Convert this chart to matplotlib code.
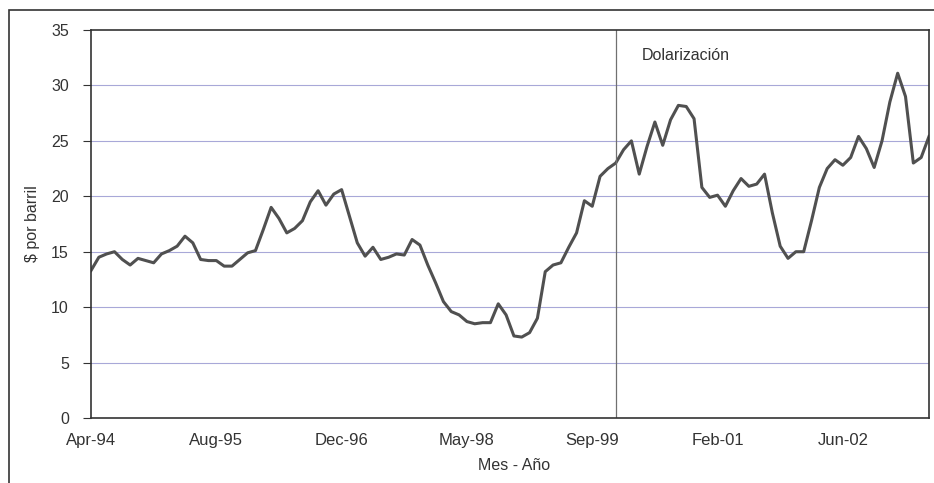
import matplotlib.pyplot as plt
from matplotlib.patches import Rectangle

plt.rcParams['font.family'] = ['Liberation Sans', 'DejaVu Sans']

# monthly crude price, $ per barrel, starting Apr-94
precio = [13.3, 14.5, 14.8, 15.0, 14.3, 13.8, 14.4, 14.2, 14.0, 14.8,
          15.1, 15.5, 16.4, 15.8, 14.3, 14.2, 14.2, 13.7, 13.7, 14.3,
          14.9, 15.1, 17.0, 19.0, 18.0, 16.7, 17.1, 17.8, 19.5, 20.5,
          19.2, 20.2, 20.6, 18.2, 15.8, 14.6, 15.4, 14.3, 14.5, 14.8,
          14.7, 16.1, 15.6, 13.8, 12.2, 10.5, 9.6, 9.3, 8.7, 8.5,
          8.6, 8.6, 10.3, 9.3, 7.4, 7.3, 7.7, 9.0, 13.2, 13.8,
          14.0, 15.4, 16.7, 19.6, 19.1, 21.8, 22.5, 23.0, 24.2, 25.0,
          22.0, 24.5, 26.7, 24.6, 26.9, 28.2, 28.1, 27.0, 20.8, 19.9,
          20.1, 19.1, 20.5, 21.6, 20.9, 21.1, 22.0, 18.5, 15.5, 14.4,
          15.0, 15.0, 17.8, 20.8, 22.5, 23.3, 22.8, 23.5, 25.4, 24.3,
          22.6, 25.0, 28.5, 31.1, 29.0, 23.0, 23.5, 25.4]
etiquetas = ['Apr-94', 'Aug-95', 'Dec-96', 'May-98', 'Sep-99', 'Feb-01', 'Jun-02']
paso_etiqueta = 16
mes_dolarizacion = 67

meses = list(range(len(precio)))
gris = '#333333'

fig = plt.figure(figsize=(9.34, 4.83), dpi=100)
ax = fig.add_axes([91 / 934, 1 - 418 / 483, (929 - 91) / 934, (418 - 30) / 483])

ax.plot(meses, precio, color='#505050', lw=2.2, solid_joinstyle='round')
ax.axvline(mes_dolarizacion, color='#707070', lw=0.9)
ax.text(mes_dolarizacion + 3.3, 32.7, 'Dolarización', fontsize=11.5,
        color=gris, va='center')

ax.set_xlim(0, len(precio) - 1)
ax.set_ylim(0, 35)
ax.set_yticks(range(0, 36, 5))
ax.set_xticks(meses[::paso_etiqueta])
ax.set_xticklabels(etiquetas)
for v in range(5, 35, 5):
    ax.axhline(v, color='#a8a8d8', lw=0.8, zorder=0)

ax.tick_params(axis='y', length=6, pad=10, labelsize=11.5, colors=gris)
ax.tick_params(axis='x', length=0, pad=11, labelsize=12, colors=gris)
for s in ax.spines.values():
    s.set_color(gris)
    s.set_linewidth(1.2)

ax.set_ylabel('$ por barril', fontsize=11.5, color=gris)
ax.yaxis.set_label_coords((40 - 91) / 838, 0.5)
ax.set_xlabel('Mes - Año', fontsize=11.5, color=gris)
ax.xaxis.set_label_coords((514 - 91) / 838, -(466 - 418) / 388)
ax.xaxis.label.set_va('center')

# chart border (left and top edges visible in the scan)
fig.patches.append(Rectangle((9 / 934, -0.05), 1.0, 1 - 10 / 483 + 0.05,
                             transform=fig.transFigure, fill=False,
                             edgecolor=gris, lw=1.2))

fig.savefig('out.png', dpi=100)
